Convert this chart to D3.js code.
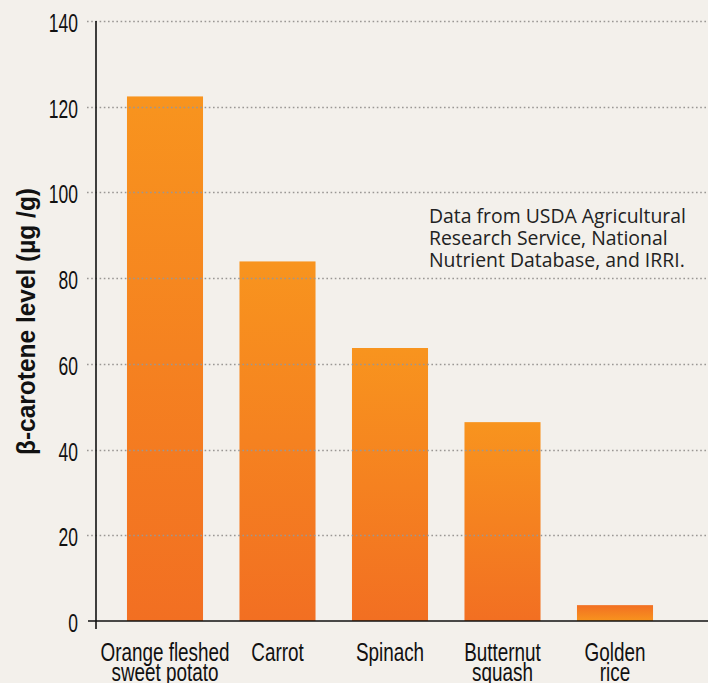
<!DOCTYPE html>
<html>
<head>
<meta charset="utf-8">
<script src="https://cdn.jsdelivr.net/npm/d3@7"></script>
<style>
  html, body { margin: 0; padding: 0; background: #f3f0eb; }
  svg { display: block; }
</style>
</head>
<body>
<script>
// β-carotene content of staple foods
const categories = [
  ["Orange fleshed", "sweet potato"],
  ["Carrot"],
  ["Spinach"],
  ["Butternut", "squash"],
  ["Golden", "rice"]
];
const values = [122.4, 83.9, 63.7, 46.4, 3.7];
const yTicks = [0, 20, 40, 60, 80, 100, 120, 140];
const yTitle = "β-carotene level (µg /g)";
const noteLines = [
  "Data from USDA Agricultural",
  "Research Service, National",
  "Nutrient Database, and IRRI."
];

const W = 708, H = 683;
const margin = { left: 96, top: 21, right: 0, bottom: 58 };
const sans = "'Liberation Sans', Arial, sans-serif";
// horizontal squeeze that gives the condensed look
const tickSqueeze = 0.70, catSqueeze = 0.755;

const svg = d3.select("body").append("svg")
  .attr("width", W).attr("height", H);

svg.append("rect").attr("width", W).attr("height", H).attr("fill", "#f3f0eb");

const defs = svg.append("defs");
const gDown = defs.append("linearGradient").attr("id", "barGrad")
  .attr("x1", 0).attr("y1", 0).attr("x2", 0).attr("y2", 1);
gDown.append("stop").attr("offset", "0%").attr("stop-color", "#f8941e");
gDown.append("stop").attr("offset", "100%").attr("stop-color", "#f26f22");
const gUp = defs.append("linearGradient").attr("id", "barGradUp")
  .attr("x1", 0).attr("y1", 0).attr("x2", 0).attr("y2", 1);
gUp.append("stop").attr("offset", "0%").attr("stop-color", "#f26f22");
gUp.append("stop").attr("offset", "100%").attr("stop-color", "#f8941e");

const y = d3.scaleLinear().domain([0, 140]).range([H - margin.bottom - 4, margin.top]);
const x = d3.scaleBand()
  .domain(d3.range(categories.length))
  .range([127 - 18.25, 127 - 18.25 + 112.5 * 5])
  .paddingInner(0.324).paddingOuter(0.162);

// bars
svg.append("g").selectAll("rect").data(values).join("rect")
  .attr("x", (d, i) => x(i))
  .attr("width", x.bandwidth())
  .attr("y", d => y(d))
  .attr("height", d => y(0) - y(d))
  .attr("fill", (d, i) => i === values.length - 1 ? "url(#barGradUp)" : "url(#barGrad)");

// dotted gridlines over the bars
svg.append("g").selectAll("line").data(yTicks.filter(t => t > 0)).join("line")
  .attr("x1", 87).attr("x2", W)
  .attr("y1", d => Math.round(y(d)) + 0.5).attr("y2", d => Math.round(y(d)) + 0.5)
  .attr("stroke", "#9a9794").attr("stroke-width", 1.6)
  .attr("stroke-dasharray", "1.6,2.6");

// y axis labels
const axisY = svg.append("g").attr("transform", `translate(${margin.left},0)`)
  .call(d3.axisLeft(y).tickValues(yTicks).tickSize(0));
axisY.select(".domain").remove();
axisY.selectAll("text")
  .attr("x", 0).attr("dy", "0.42em")
  .attr("transform", `translate(-18,0) scale(${tickSqueeze},1)`)
  .attr("font-family", sans).attr("font-size", 25).attr("fill", "#111");

svg.append("line")
  .attr("x1", margin.left).attr("x2", margin.left)
  .attr("y1", y(140)).attr("y2", y(0) + 8)
  .attr("stroke", "#111").attr("stroke-width", 1.6);
svg.append("line")
  .attr("x1", 88).attr("x2", W)
  .attr("y1", y(0)).attr("y2", y(0))
  .attr("stroke", "#111").attr("stroke-width", 1.6);

// category labels
const cat = svg.append("g").selectAll("text").data(categories).join("text")
  .attr("text-anchor", "middle")
  .attr("transform", (d, i) => `translate(${x(i) + x.bandwidth() / 2},661) scale(${catSqueeze},1)`)
  .attr("font-family", sans).attr("font-size", 25).attr("fill", "#111");
cat.selectAll("tspan").data(d => d).join("tspan")
  .attr("x", 0)
  .attr("y", (d, i) => i * 19.5)
  .text(d => d);

// y axis title
svg.append("text")
  .attr("transform", `translate(35,${(188 + 455) / 2}) rotate(-90)`)
  .attr("text-anchor", "middle")
  .attr("font-family", sans).attr("font-weight", "bold")
  .attr("font-size", 25).attr("fill", "#111")
  .attr("textLength", 267).attr("lengthAdjust", "spacingAndGlyphs")
  .text(yTitle);

// source note
svg.append("g").selectAll("text").data(noteLines).join("text")
  .attr("x", 429).attr("y", (d, i) => 223 + i * 22)
  .attr("font-family", "'Open Sans', 'Noto Sans', sans-serif")
  .attr("font-size", 19.4).attr("fill", "#222")
  .text(d => d);
</script>
</body>
</html>
